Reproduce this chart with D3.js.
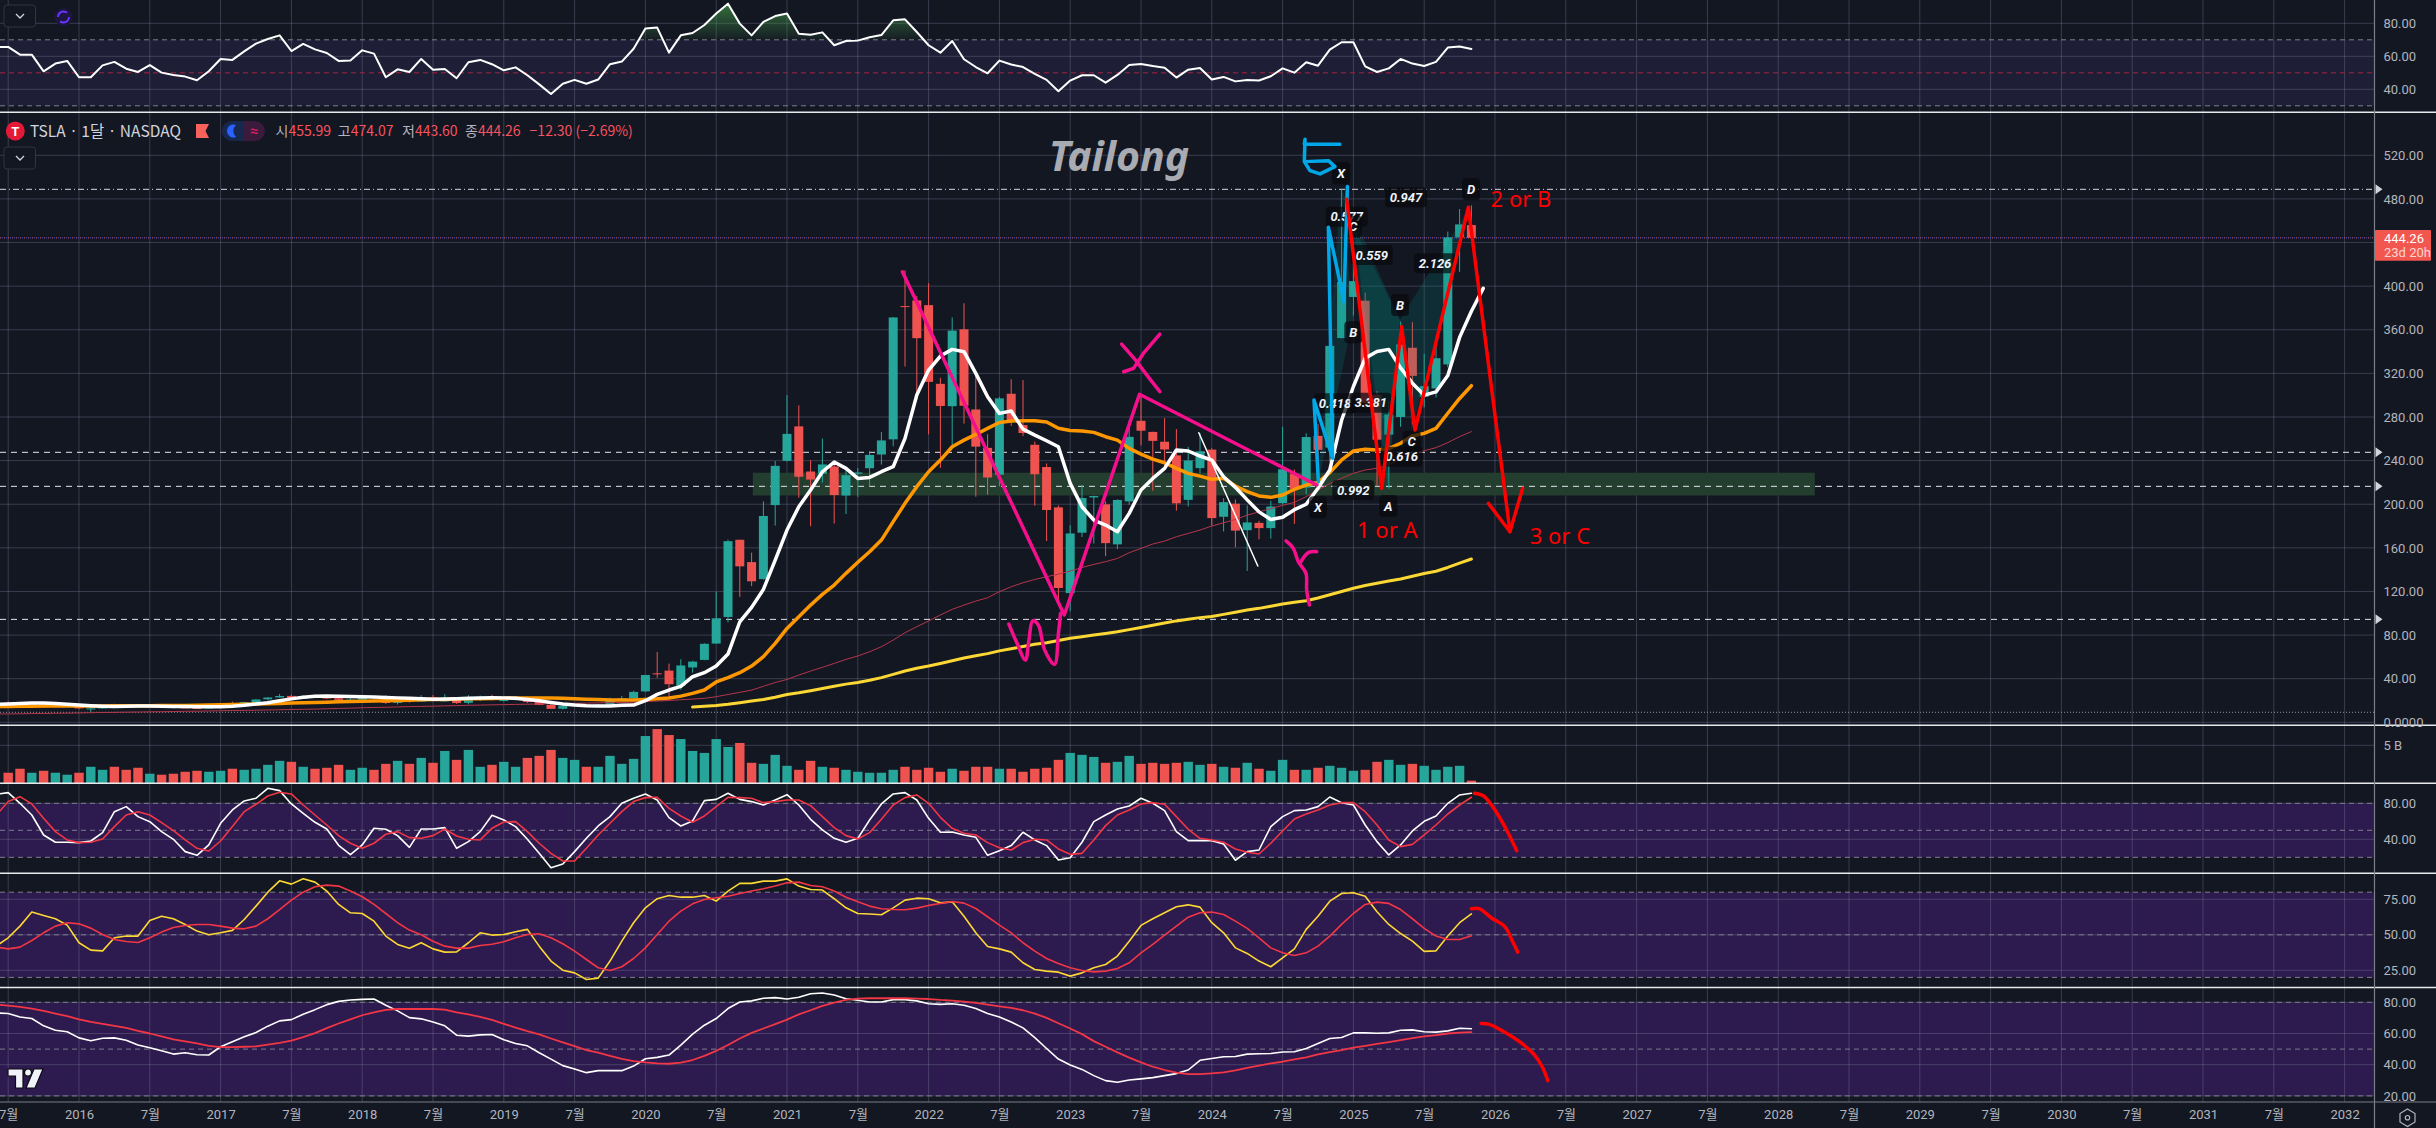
<!DOCTYPE html>
<html>
<head>
<meta charset="utf-8">
<script src="https://cdn.jsdelivr.net/npm/d3@7"></script>
<style>
  html, body { margin: 0; padding: 0; background: #131722; }
  svg { display: block; }
  text { font-family: Roboto, "Noto Sans", sans-serif; }
  .tick text { fill: #b2b5be; font-size: 13px; }
</style>
</head>
<body>
<div id="chart"></div>
<script>
//// month index: 0 = Jan 2016, first bar -7 = Jun 2015
const firstBar = -7;

//// monthly candles, Jun 2015 to Nov 2025
const opens = [16.6,18,17.9,16.1,16.5,14,15.4,
 15.4,12.6,12.7,16.6,16.1,14.9,14.1,15.1,14.2,13.6,13.1,12.7,
 14.3,17,16.7,18.6,21.1,22.8,24.2,21.6,23.6,22.7,22.1,20.6,
 20.8,23.8,22.9,17.8,20,19,23,20,20.2,17.9,22.5,23.4,
 20.4,20.5,21.3,18.7,15.9,12.4,15,16.2,15.1,16.1,21,22,
 28.3,44.9,47.4,33.6,50.3,57.2,72.2,96.6,167.4,146.9,131.3,199.2,
 239.8,271.4,230,228,234.6,208,227.9,233,245.6,259.5,381.7,386.9,
 382.6,310.4,289.9,360.4,286.9,251.7,227,301.3,272.6,254.5,234.1,197.1,
 118.5,173.9,206.2,199.9,163.2,202.6,276.5,266.3,257.3,244.8,204,233.1,
 250.1,188.5,200.5,176.2,182.9,178.1,201,227.7,215.3,262.7,252,352.4,
 390.1,386.7,300.3,263.8,280,343.5,298.5,306.2,328.2,444.7,455.99];
const highs = [17.9,19.1,18.5,18,16.9,15.8,16.3,
 15.4,13.8,15.8,17,16.1,15.8,15.5,15.4,14.7,14.2,13.9,14.5,
 17,19,18.9,21.1,22.9,25.97,25.3,24.7,25.5,24.3,22.3,23.4,
 23.9,24,24.9,20.6,20.9,24.9,24.9,25.8,21.4,24.9,24.5,25.3,
 23,23.5,23.5,19.7,17.2,15,17.2,16.3,16.6,22.7,24.2,29,
 43.6,64.6,53.8,57.8,56.4,72.5,119.7,167.5,167.5,155.6,202.6,239.6,
 300.1,290.6,240.4,260.3,236.4,233.3,233.3,248.7,266.3,371.7,414.5,390.9,
 402.7,315.9,371.3,384.3,318.5,264.2,298.4,314.7,313.8,257.5,237.4,198.9,
 180.7,217.6,207.8,202.7,204.5,277,299.3,266.5,279,268.9,252.7,265.1,
 251.3,205.6,204.5,198.9,184.8,203.2,271,231.9,265,273.5,358.6,488.5,
 439.7,394,303.9,294.9,367.7,367,338,352.9,450,470.75,474.07];
const lows = [16.4,17,13,15.5,13.7,13.8,14.7,
 12,9.4,12.3,15,13.9,13.8,14,14,12.9,13.1,12.4,12.7,
 14.1,16.2,16.3,18.4,20,22.6,20.2,21.5,22.8,21.1,19.5,20.5,
 20.6,19.5,16.8,16.3,18.1,18.9,19.3,19.2,16.9,16.4,19.6,20,
 19.1,19.9,17.6,15.7,12.2,11.8,14.8,14.1,14.5,15.3,20.7,21.9,
 28.1,40.8,23.4,29.8,45.5,56.9,72,91.6,115,125,130.8,180.4,
 239.1,206,179.8,219.8,182.3,191,206.8,216.3,236.4,253.2,326.3,295.4,
 264,233.3,252,273.9,206.9,208.7,216.2,271.8,262.5,198.6,166.2,108.2,
 101.8,169.9,163.9,152.4,158.8,199.4,254.1,212.4,234.6,194.1,197.9,228.2,
 180.1,175,160.5,138.8,167.8,168.5,200,182,209.1,212.1,238.9,352,
 373,288.7,217,214.3,271,273.2,288.8,297.8,325.6,413.1,443.6];
const closes = [17.88,17.94,16.62,16.56,13.77,15.35,16,
 12.73,12.73,15.32,16.05,14.9,14.15,15.04,14.12,13.6,13.1,12.62,14.25,
 16.9,16.69,18.55,20.94,22.74,24.1,21.56,23.56,22.74,22.1,20.59,20.76,
 23.62,22.87,17.74,19.59,18.98,22.86,19.88,20.11,17.65,22.49,23.37,22.19,
 20.47,21.33,18.66,15.91,12.34,14.9,16.11,15.04,16.06,20.99,21.99,27.89,
 43.37,44.53,34.93,52.13,55.67,71.99,95.38,166.1,143,129.3,189.2,235.2,
 264.5,225.2,222.6,236.5,208.4,226.6,229.1,245.2,258.5,371.3,381.6,352.3,
 312.2,290.1,359.2,290.3,252.8,224.5,297.1,275.6,265.3,227.5,194.7,123.2,
 173.2,205.7,207.5,164.3,203.9,261.8,267.4,258.1,250.2,200.8,240.1,248.5,
 187.3,201.9,175.8,183.3,178.1,197.9,232.1,214.1,261.6,249.9,345.2,403.8,
 404.6,293,259.2,282.2,346.5,317.7,308.3,333.9,444.7,456.6,444.26];

//// volume in billions, from Jul 2015
const volStart = -6;
const volumes = [1.36,1.89,1.36,1.62,1.36,1.1,1.36,2.15,1.75,2.15,1.75,2.02,1.23,1.1,1.23,1.49,1.62,1.49,1.62,1.89,1.75,1.89,2.41,2.94,2.81,2.15,1.89,2.02,2.41,1.75,2.02,1.75,2.54,2.94,2.54,3.33,2.68,4.25,3.07,4.39,2.15,2.41,2.81,2.15,3.33,3.6,4.39,3.33,3.07,2.15,2.15,3.6,2.54,3.2,6.23,7.15,6.36,5.83,4.25,3.99,5.83,4.78,5.31,2.68,2.54,3.73,2.28,1.75,
 2.94,2.15,2.02,1.75,1.49,1.36,1.36,1.75,2.15,1.75,2.02,1.49,1.89,1.62,2.15,2.15,1.89,1.89,1.49,1.89,2.02,3.07,3.99,3.73,3.46,2.68,2.81,3.6,2.54,2.68,2.54,2.68,2.81,2.41,2.54,2.15,2.02,2.68,1.89,1.62,3.07,1.75,1.75,2.02,2.28,2.02,1.62,1.75,2.81,3.07,2.41,2.54,2.28,1.75,2.15,2.28,0.31];

//// price overlays
const whiteStart = -7;
const whiteLine = [16.4,16.8,17.2,17.6,17.7,17.2,16.5,15.8,15.2,14.8,14.6,14.8,15,15,14.8,14.6,14.4,14.3,14.2,14.3,14.8,15.6,16.8,18,19.8,21.5,23,23.8,24.1,23.9,23.6,23.5,23.2,22.8,22.4,22,21.6,21.2,21.4,21.7,22,22.3,22.6,22.4,22,21,19.8,18.2,16.8,15.8,15.2,14.9,14.9,15.6,15.8,19.8,25.6,29.6,33,
 41.8,45.5,51.6,62.6,92.2,105.4,121.9,148.8,176.3,197.7,213,229.8,238.7,232.9,223.7,224.6,229.8,234.4,260.4,300.1,323,335.9,342,339.9,320,298.6,283.3,285.5,268.9,263.4,258.2,252.7,219.1,197.7,185.5,180.9,174.8,191.6,213,223.7,232.9,249.7,248.8,244.2,240.5,225.2,215.5,204,193,186,188,195,200,214.6,231.4,277,308,334,340,342,325,311,300,303,318,353,377,398];
const orangeStart = -7;
const orangeLine = [14.5,14.6,14.7,14.8,14.9,15,15,15,15,15,15.1,15.1,15.2,15.2,15.3,15.4,15.5,15.7,15.9,16.1,16.3,16.5,16.8,17,17.3,17.6,17.9,18.2,18.5,18.8,19,19.2,19.5,19.8,20,20.3,20.6,20.8,21,21.3,21.5,21.7,21.9,22.1,22.3,22.4,22.4,22.3,22.1,21.6,21.2,20.8,20.5,20.4,20.5,21,21.5,22.3,24,26.5,29.6,37,
 40.9,45.5,51.6,60.2,72.4,86.1,96.8,107.5,117.3,125.9,136.6,146.7,156.4,167.1,184,200.8,216.1,229.8,240.5,252.7,258.8,264,269.6,275,276.3,276.6,276.6,275.4,269.6,267.7,267.1,265.9,261.9,258.8,251.2,246,241.4,238,232.9,228.3,225.8,222.8,223.8,216.7,211.5,207.6,206.3,208.5,213.7,217.6,220,229,240.6,248.8,250.4,249.7,251,255.9,262.6,265,269.6,283.4,297,308.7];
const thinRedStart = -7;
const thinRedLine = [7.6,7.7,7.8,8,8.1,8.3,8.4,8.6,8.8,9,9.1,9.3,9.4,9.6,9.7,9.9,10.1,10.2,10.4,10.6,10.8,10.9,11.1,11.3,11.5,11.7,11.9,12.1,12.4,12.7,13,13.3,13.6,13.8,14.1,14.4,14.6,14.8,15.1,15.3,15.6,15.8,16,16.2,16.4,16.6,16.8,17,17.2,17.4,17.6,17.8,18,18.2,18.4,19,19.5,20,20.7,21.3,22,23.5,25.5,27.5,29.5,33,36.5,
 39.3,43.3,47,50.4,54,57.7,60.8,64.7,69.3,75.4,82.2,87.7,92.9,98.4,103.6,107.5,111.2,114.2,119.8,124.3,128,131,133.5,135.9,138.7,142,144.8,147.3,150.3,155.5,159.5,163.5,166.2,170.2,173.2,176.3,180,183,186,190,193,196,199,201.7,207,213,219,223.8,228.3,231.4,233,236,242,246.7,249,251.9,256.5,262,266.6];
const yellowStart = 52;
const yellowLine = [14,14.8,15.5,16.5,18,19.5,21,23,25.5,27.1,29,31,33,35,36.5,38.5,41,44,47,49.5,51.6,54,56.5,59,61,63,65.5,67.5,69.5,71.5,73,75,77,78.5,80,81.5,83,85,87,89,91,93,94.5,96,97,99,101,103,104.5,106.5,108.5,110,111.5,114,117,120,123,125.5,127.5,129.5,131.5,134,136.5,138.5,142,146,149.8];

//// level lines and zone on the price pane
const dashedLevels = [247.6, 216.4, 94.4];
const topLevel = 488.8;
const lastPrice = 444.26;
const floorLevel = 9.2;
const zoneMonths = [57.1, 147.1];
const zonePrices = [208, 228.9];

//// RSI
const rsiStart = -7;
const rsiLine = [65.7,65.7,61,61,50.9,55.6,57.2,47.3,47.3,54.5,56.6,52.5,50.5,54.7,50.1,48.7,47.7,45.5,50.9,58.4,57.8,63,67.7,70.5,72.7,63.2,67.5,64.2,62,57.2,57.4,63.6,61.6,47.3,52.1,50.5,58.4,51.9,52.3,46.7,56.4,57.8,55.2,51.5,53.3,48.5,43,37.2,43.4,45.7,43.4,45.9,55.2,56.8,64.6,76.8,77.4,62.2,72.7,74.1,79,85.9,91.9,79.8,72.7,80.8,84.4,
 85.9,73.7,73.1,74.5,66.7,69.3,69.5,71.5,72.9,81.8,82.4,74.7,66.7,62.2,69.3,58.2,53.5,49.7,57.4,55,53.5,49.3,45.7,38.8,45.3,48.5,48.5,44,48.7,54.7,55.3,54.1,53.1,47.1,51.9,52.9,45.9,47.5,44.8,45.7,45.3,47.9,52.7,50.1,56.4,54.3,64,68.5,68.5,53.9,50.5,52.7,58.4,55.6,54.1,56.6,65.3,65.9,64.4];

//// stochastic panes
const stochStart = -7;
const stochAK = [90,91.9,80,67,44.8,36.7,36.7,36.3,38.1,47.4,70.7,76.3,65.2,59.6,48.5,40,26.3,22.2,33.7,57.8,72.6,82.6,85.6,96.7,94.1,79.3,68.9,58.9,51.5,33.3,23,33.7,52.2,51.1,44.1,31.1,51.5,51.5,53,30,37.4,48.5,66.7,61.5,54.1,40,24.4,8.5,12.6,26.3,41.1,54.8,65.2,80,85.6,90.4,83.7,64.1,54.8,60.4,83,84.4,91.1,84.4,81.9,78.1,83.7,89.6,78.1,
 62.2,50.4,41.1,36.7,41.1,61.5,79.3,90.4,91.9,83.7,63.3,47.8,48.1,44.8,42.2,22.2,27.4,33,47.8,39.3,33,17,19.6,36.7,59.6,67,73.7,77,85.6,80,71.9,48.5,38.5,38.5,38.5,34.8,16.7,26.3,28.1,54.1,65.2,71.9,72.6,76.3,87,80.7,78.1,55.9,37.4,22.6,33.7,49.3,60,65.9,80,89.3,91.1];
const stochAD = [67,81.9,87.4,79.3,63.3,48.5,39.3,36.3,36.7,40.4,54.1,67,70.7,67,58.5,49.6,39.3,30,27,38.1,54.1,70.7,78.9,88.1,92.2,90.4,78.1,67,55.9,44.1,35.6,30,35.6,45.6,48.5,41.9,41.1,44.1,51.5,43.7,40,39.3,52.2,59.3,59.6,48.5,35.6,24.4,15.9,15.9,30,44.8,57.8,70.7,81.9,86.3,86.7,74.4,65.9,58.9,65.9,76.3,86.7,86.3,85.6,80.7,81.9,83.7,83.7,
 77.4,65.2,53,44.1,40.4,47.4,62.2,78.1,86.3,89.3,80,64.4,52.2,46.7,44.8,36.3,30.7,28.1,36.3,40,39.3,29.3,23.3,24.4,39.3,55.2,67,72.6,79.3,80.7,78.9,65.2,51.1,41.1,39.3,36.7,29.3,25.6,23.7,35.6,49.3,62.6,68.1,72.6,78.1,80.7,80.7,70.7,55.9,39.3,31.9,34.4,44.8,55.9,68.1,78.1,86.7];
const stochBK = [42,47.9,56.1,66,63.6,61.3,56.8,44.4,39.2,38.7,47.9,49.1,49.1,60.1,63.1,61.3,57.3,52.6,50,51.4,53.1,60.8,70.2,80,88,85.7,89.4,87.1,80.8,71.4,65.5,65,59.6,49.1,43.2,40.6,44.4,40.1,37.8,38,44.4,51.4,49.8,50.2,52.1,53.8,42,31.5,25.1,23.2,18.5,19.5,31.5,45.5,58.5,69,75.4,77.7,76.5,76.5,77.7,73.7,80.8,86.2,86.2,87.8,87.8,89.4,84.3,
 81.9,81.5,75.4,69,65,64.6,64.1,69,74.4,75.8,75.4,72.5,73.2,63.1,51.4,41.8,40.1,37.8,30.3,25.6,24.4,23.7,20.9,23.2,26.8,29.1,35,45.5,56.6,61.3,65.5,69.7,71.1,69.5,58.5,51.4,40.8,36.9,31.5,27.5,33.8,40.1,53.8,63.1,73.7,79.1,79.6,77.2,66.2,57.3,50.9,45.5,38.3,38.7,49.1,58.5,64.8];
const stochBD = [41.3,40.1,41.3,46,51.4,56.1,58.5,57.7,54.7,50.2,46.7,45.3,44.6,47.9,51.9,55.2,56.6,57.3,57.3,56.1,54.7,54.2,56.1,61.3,67.8,74.4,80,83.8,85,84.3,80.8,76.8,71.4,65,58.5,53.3,50,45.5,42,40.6,40.6,42.5,43.4,45.1,47.9,50.2,50.7,47.9,43.7,38.5,32.6,26.8,24.9,27.5,33.3,40.8,50.2,59.6,66.7,71.8,74.9,76.1,77.2,79.1,80.8,82.4,84.3,86.6,87.1,
 84.7,83.8,80.8,76.5,73.2,70.2,68.3,67.8,67.6,68.8,70.7,72.1,73.5,72.3,68.5,62.7,56.8,51.4,44.4,38.5,33.3,29.8,26.8,24.9,23.9,24.4,26.3,30.3,37.3,43.2,49.8,56.1,62.4,65.5,66,64.3,59.6,54.5,47.9,40.8,37.3,35.4,37.3,42,49.1,57.3,65,71.4,73,72.1,67.8,61.3,54.5,49.1,46.7,46.7,49.3];
const stochCK = [73.2,72.8,70.6,69.6,64.9,62.1,61.1,57.2,55.3,57,57.2,55.7,52.6,50.9,48.9,46.8,47.7,46.4,46.2,51.5,54.7,57.9,60.6,64.7,68.1,68.9,72.3,75.3,78.5,80.6,81.5,81.9,82.1,78.1,74.5,70.2,69.4,67.4,64.9,58.9,58.3,59.1,59.4,56,53.6,52.1,47.7,43.6,39.4,37.2,34.9,36.2,36.2,36.2,39.1,43.8,44.7,46.2,52.6,59.6,65.3,69.6,76,80.2,80.9,82.6,83,82.1,83.2,
 85.5,86,84.7,82.3,81.3,80.2,80.2,81.7,81.7,80.9,79.1,78.7,79.1,78.1,76,72.8,70.6,67.4,63.6,57.4,50.4,43.6,39.8,37,33,29.8,28.7,30.2,30.9,31.7,33,34.3,36.6,42.8,44,45.1,45.3,46.8,47,47.2,48.1,48.3,50.4,53.6,56.8,57.4,60.4,60.4,60.2,60.4,62.1,62.3,61.1,60.9,61.7,63.4,63];
const stochCD = [78.5,77.9,77,76,74.5,72.8,71.1,69.1,67.4,66.2,64.9,63.6,61.7,60,58.1,56.2,54.9,53.6,52.1,51.3,51.3,51.5,51.7,52.8,54,55.5,57.7,60.2,63.4,66.4,69.1,71.7,73.6,75.1,75.7,75.7,75.7,75.7,75.3,73.6,72.3,70.6,68.7,66.2,63.8,61.5,59.4,56.8,54.3,51.9,49.4,47.7,45.7,43.8,42.3,41.5,40.9,40.6,41.3,43,45.7,48.9,52.6,56.8,60.4,63.2,66,68.9,72.3,
 74.9,77.7,79.8,81.5,82.3,82.6,82.6,82.6,82.6,82.3,82.1,81.5,81.1,80.4,79.6,78.5,77.4,76.4,74.9,72.8,70,66.6,63.2,59.6,55.1,51.5,47.9,44.5,41.5,38.7,36.6,34.9,34,34,34.5,35.1,36.4,37.9,39.4,40.9,41.9,43.4,44.7,46.6,48.1,49.4,50.9,52.1,53.4,54.5,55.7,57,58.1,58.9,60,60.6,60.9];

//// hand drawn strokes as [month, value]
const pinkZig = [[69.78,413.2],[83.5,98.4],[89.87,300.8],[104.9,217.6]];
const pinkW = [[78.8,90.1],[79.5,72.4],[80.2,57.1],[80.5,75.4],[80.83,93.2],[81.3,89.2],[81.84,66.2],[82.67,53.1],[83,81.5],[83.18,99.9]];
const pinkX1 = [[88.36,346.9],[89.54,332.2],[90.71,315.4],[91.6,303.2]];
const pinkX2 = [[88.53,321.5],[89.37,324.6],[90.2,338.3],[91.6,356.1]];
const pinkY1 = [[102.29,166.3],[102.9,159.6],[103.33,147.3],[103.98,136.6],[104.04,121.3],[104.27,107.6]];
const pinkY2 = [[103.47,145.8],[104.18,155.6],[104.89,156.5]];
const blueZig = [[105.03,220.7],[104.66,295.6],[106.24,242.1],[105.88,454],[107.2,385.8],[107.49,491.3]];
const blueFive = [[106.86,530.1],[103.84,530.1],[103.9,534.7],[103.84,514.2],[105.88,515.1],[106.44,509.6],[105.17,502.9],[104.32,505.9],[103.84,514.2]];
const redZig = [[107.43,479.6],[110.4,214.6],[112.09,362.9],[113.22,268.1],[117.74,472.3],[121.27,174.8]];
const redHead = [[119.44,200.8],[121.27,174.8],[122.34,214.6]];
const whitePen = [[94.9,265.6],[99.9,143.3]];
const penStochA = [[118.26,91.1],[119.03,88.1],[119.8,76.3],[120.68,57.8],[121.2,44.8],[121.84,27.4]];
const penStochB = [[118,68.3],[118.7,68.3],[119.68,62],[120.85,55.6],[121.41,46.7],[121.93,37.8]];
const penStochC = [[118.82,66.4],[119.46,66],[120.76,61.1],[122.28,53.6],[123.36,46.2],[124,38.7],[124.48,29.8]];

//// harmonic pattern
const patternFills = [
  [[105,218],[106.95,490],[108,372]],
  [[106.95,490],[110.96,214],[111.95,369]],
  [[108,455],[111.95,369],[110.96,214]],
  [[111.95,369],[112.94,268],[117.94,474.4]]
];
const patternText = ["X","0.947","D","0.577","C","0.559","2.126","B","B","0.418","3.381","C","0.616","0.992","X","A"];
const patternMonth = [106.95,112.46,117.97,107.43,107.97,109.55,114.92,111.95,107.99,106.44,109.47,112.94,112.09,107.99,105,110.96];
const patternPrice = [503.5,481.5,488.8,463.7,454.5,428.6,421,382.7,357.7,292.6,293.1,257.3,243.6,213,197.2,198.4];

const handText = ["2 or B","1 or A","3 or C"];
const handMonth = [122.2,110.87,125.5];
const handPrice = [479.9,176,171];

//// ticks
const timeTicks = d3.range(-6, 193, 6);
const priceTicks = d3.range(0, 521, 40);
const priceLabels = priceTicks.filter(d => d != 440);

//// layout
const W = 2436, H = 1128, plotR = 2374.5;
const sepYs = [112.3, 725.2, 783.2, 873.3, 987.5];
const axisY = 1102;

const x = d3.scaleLinear().domain([0, 192]).range([79, 2344.6]);
const yRsi = d3.scaleLinear().domain([80, 40]).range([23.3, 89.3]);
const yPrice = d3.scaleLinear().domain([0, 520]).range([722.3, 155.3]);
const yVol = d3.scaleLinear().domain([0, 5]).range([783, 745.3]);
const yA = d3.scaleLinear().domain([80, 40]).range([803.3, 839.3]);
const yB = d3.scaleLinear().domain([75, 25]).range([899.3, 970.3]);
const yC = d3.scaleLinear().domain([80, 40]).range([1002.3, 1064.7]);

const teal = "#26a69a", coral = "#ef5350";
const gridCol = "rgba(125,128,155,0.36)";

const svg = d3.select("#chart").append("svg").attr("width", W).attr("height", H)
  .style("background", "#131722");

function seriesLine(values, start, y) {
  return d3.line().x((d, i) => x(i + start)).y(d => y(d))(values);
}
function penLine(points, y, curve) {
  return d3.line().x(d => x(d[0])).y(d => y(d[1])).curve(curve || d3.curveLinear)(points);
}
function stroke(path, col, w) {
  return svg.append("path").attr("d", path).attr("fill", "none").attr("stroke", col)
    .attr("stroke-width", w).attr("stroke-linejoin", "round").attr("stroke-linecap", "round");
}
function hLine(y, col, w, dash) {
  return svg.append("line").attr("x1", 0).attr("x2", plotR).attr("y1", y).attr("y2", y)
    .attr("stroke", col).attr("stroke-width", w).attr("stroke-dasharray", dash || null);
}
function band(y0, y1, col) {
  svg.append("rect").attr("x", 0).attr("width", plotR).attr("y", y0).attr("height", y1 - y0).attr("fill", col);
}

//// bands first, grid goes over them
band(yRsi(70), yRsi(30), "#1e1f36");
band(yA(80), yA(20), "#2d1a4e");
band(yB(80), yB(20), "#2d1a4e");
band(yC(80), yC(20), "#2d1a4e");

//// grid
svg.append("g").selectAll("line").data(timeTicks).join("line")
  .attr("x1", d => x(d)).attr("x2", d => x(d)).attr("y1", 0).attr("y2", axisY)
  .attr("stroke", gridCol);
[[yRsi,[80,60,40]],[yPrice,priceTicks],[yVol,[5]],[yA,[80,40]],[yB,[75,50,25]],[yC,[80,60,40,20]]].forEach(p => {
  p[1].forEach(v => hLine(p[0](v), gridCol, 1));
});

//// band edges
const dashCol = "#7d7f8c";
[70, 30].forEach(v => hLine(yRsi(v), dashCol, 1, "5 4"));
hLine(yRsi(50), "#a3233f", 1, "5 4");
[yA, yB, yC].forEach(y => [80, 50, 20].forEach(v => hLine(y(v), dashCol, 1, "5 4")));

//// RSI with the overbought fill
const defs = svg.append("defs");
const grad = defs.append("linearGradient").attr("id", "obFill").attr("gradientUnits", "userSpaceOnUse")
  .attr("x1", 0).attr("x2", 0).attr("y1", 3).attr("y2", yRsi(70));
grad.append("stop").attr("offset", 0).attr("stop-color", "#4caf50").attr("stop-opacity", 0.6);
grad.append("stop").attr("offset", 1).attr("stop-color", "#4caf50").attr("stop-opacity", 0.04);
defs.append("clipPath").attr("id", "obClip").append("rect")
  .attr("x", 0).attr("y", 0).attr("width", plotR).attr("height", yRsi(70));
svg.append("path")
  .attr("d", d3.area().x((d, i) => x(i + rsiStart)).y0(yRsi(70)).y1(d => yRsi(d))(rsiLine))
  .attr("fill", "url(#obFill)").attr("clip-path", "url(#obClip)");
stroke(seriesLine(rsiLine, rsiStart, yRsi), "#ffffff", 2);

//// green zone
svg.append("rect")
  .attr("x", x(zoneMonths[0])).attr("width", x(zoneMonths[1]) - x(zoneMonths[0]))
  .attr("y", yPrice(zonePrices[1])).attr("height", yPrice(zonePrices[0]) - yPrice(zonePrices[1]))
  .attr("fill", "#233d2f");

//// levels
dashedLevels.forEach(v => hLine(yPrice(v), "#e4e6ea", 1, "6 5"));
hLine(yPrice(topLevel), "#d6d8dd", 1, "6 3 1 3");
hLine(yPrice(lastPrice), coral, 1, "1 3");
hLine(yPrice(lastPrice), "#2962ff", 1, "1 3").attr("stroke-dashoffset", 2);
hLine(yPrice(floorLevel), "#9598a1", 1, "1 2");

//// candles
const bars = opens.map((o, i) => ({ m: i + firstBar, o: o, h: highs[i], l: lows[i], c: closes[i] }));
svg.append("g").selectAll("line").data(bars).join("line")
  .attr("x1", d => x(d.m)).attr("x2", d => x(d.m))
  .attr("y1", d => yPrice(d.h)).attr("y2", d => yPrice(d.l))
  .attr("stroke", d => d.c >= d.o ? teal : coral);
svg.append("g").selectAll("rect").data(bars).join("rect")
  .attr("x", d => x(d.m) - 4.5).attr("width", 9)
  .attr("y", d => yPrice(Math.max(d.o, d.c)))
  .attr("height", d => Math.max(1, Math.abs(yPrice(d.o) - yPrice(d.c))))
  .attr("fill", d => d.c >= d.o ? teal : coral);

//// harmonic fill
svg.append("g").selectAll("path").data(patternFills).join("path")
  .attr("d", d => penLine(d, yPrice) + "Z")
  .attr("fill", "rgba(0,137,123,0.2)");

//// overlays
stroke(seriesLine(thinRedLine, thinRedStart, yPrice), "#b5354a", 1);
stroke(seriesLine(yellowLine, yellowStart, yPrice), "#fdd835", 3);
stroke(seriesLine(orangeLine, orangeStart, yPrice), "#ff9800", 3.5);
stroke(seriesLine(whiteLine, whiteStart, yPrice), "#ffffff", 3.5);

//// volume
svg.append("g").selectAll("rect").data(volumes).join("rect")
  .attr("x", (d, i) => x(i + volStart) - 4.7).attr("width", 9.4)
  .attr("y", d => yVol(d)).attr("height", d => yVol(0) - yVol(d))
  .attr("fill", (d, i) => {
    const b = bars[i + volStart - firstBar];
    return b.c >= b.o ? teal : coral;
  });

//// stochastic lines
const redLn = "#f23645", yelLn = "#fdd835";
stroke(seriesLine(stochAK, stochStart, yA), "#ffffff", 1.6);
stroke(seriesLine(stochAD, stochStart, yA), redLn, 1.6);
stroke(seriesLine(stochBK, stochStart, yB), yelLn, 1.6);
stroke(seriesLine(stochBD, stochStart, yB), redLn, 1.6);
stroke(seriesLine(stochCK, stochStart, yC), "#ffffff", 1.6);
stroke(seriesLine(stochCD, stochStart, yC), redLn, 1.8);

//// labels of the harmonic pattern
const pat = svg.append("g").selectAll("g")
  .data(patternText.map((t, i) => ({ t: t, m: patternMonth[i], p: patternPrice[i] })))
  .join("g").attr("transform", d => `translate(${x(d.m)},${yPrice(d.p)})`);
pat.append("rect")
  .attr("x", d => d.t.length > 1 ? -21 : -9).attr("width", d => d.t.length > 1 ? 42 : 18)
  .attr("y", d => d.t.length > 1 ? -10 : -11).attr("height", d => d.t.length > 1 ? 20 : 22)
  .attr("rx", 4).attr("fill", "rgba(8,10,14,0.72)");
pat.append("text").text(d => d.t).attr("text-anchor", "middle").attr("dy", "0.36em")
  .attr("fill", "#f0f3fa").attr("font-size", 13).attr("font-weight", 700).attr("font-style", "italic");

//// hand strokes
const pink = "#f50f8c", blue = "#00a8e8", red = "#ff0000";
stroke(penLine(whitePen, yPrice), "#ffffff", 1.5);
stroke(penLine(pinkZig, yPrice), pink, 3.5);
stroke(penLine(pinkW, yPrice, d3.curveCatmullRom), pink, 3.5);
stroke(penLine(pinkX1, yPrice), pink, 3.5);
stroke(penLine(pinkX2, yPrice), pink, 3.5);
stroke(penLine(pinkY1, yPrice, d3.curveCatmullRom), pink, 3.5);
stroke(penLine(pinkY2, yPrice, d3.curveCatmullRom), pink, 3.5);
stroke(penLine(blueZig, yPrice), blue, 3.5);
stroke(penLine(blueFive, yPrice), blue, 3.5);
stroke(penLine(redZig, yPrice), red, 3.5);
stroke(penLine(redHead, yPrice), red, 3.5);
stroke(penLine(penStochA, yA, d3.curveCatmullRom), red, 3.5);
stroke(penLine(penStochB, yB, d3.curveCatmullRom), red, 3.5);
stroke(penLine(penStochC, yC, d3.curveCatmullRom), red, 3.5);

handText.forEach((t, i) => {
  svg.append("text").text(t).attr("x", x(handMonth[i])).attr("y", yPrice(handPrice[i]))
    .attr("text-anchor", "middle").attr("dy", "0.36em")
    .attr("fill", red).attr("font-size", 22).attr("style", 'font-family:"Noto Sans"');
});

svg.append("text").text("Tailong").attr("x", 1119).attr("y", 170.5).attr("text-anchor", "middle")
  .attr("fill", "#a9abb2").attr("font-size", 41).attr("font-weight", 700).attr("font-style", "italic")
  .attr("style", 'font-family:"Noto Sans"');

//// separators and frame
sepYs.forEach(y => svg.append("line").attr("x1", 0).attr("x2", W).attr("y1", y).attr("y2", y)
  .attr("stroke", "#e8e9ec").attr("stroke-width", 1.6));
svg.append("line").attr("x1", 0).attr("x2", W).attr("y1", axisY).attr("y2", axisY).attr("stroke", "#7d7f88").attr("stroke-width", 1.2);
svg.append("line").attr("x1", plotR).attr("x2", plotR).attr("y1", 0).attr("y2", H).attr("stroke", "#7d7f88").attr("stroke-width", 1.2);

//// axes
function rightAxis(y, ticks, fmt) {
  const g = svg.append("g").attr("transform", `translate(${plotR},0)`)
    .call(d3.axisRight(y).tickValues(ticks).tickSize(0).tickPadding(9).tickFormat(fmt));
  g.select(".domain").remove();
  return g;
}
const f2 = d3.format(".2f");
rightAxis(yRsi, [80, 60, 40], f2);
rightAxis(yPrice, priceLabels, d => d == 0 ? "0.0000" : f2(d));
rightAxis(yVol, [5], d => d + " B");
rightAxis(yA, [80, 40], f2);
rightAxis(yB, [75, 50, 25], f2);
rightAxis(yC, [80, 60, 40, 20], f2);

const timeAxis = svg.append("g").attr("transform", `translate(0,${axisY + 8})`)
  .call(d3.axisBottom(x).tickValues(timeTicks).tickSize(0).tickPadding(0)
    .tickFormat(d => d % 12 == 0 ? String(2016 + d / 12) : "7월"));
timeAxis.select(".domain").remove();
timeAxis.selectAll("text").attr("style", 'font-family:Roboto,"Noto Sans CJK KR"');

//// level markers on the price axis
[topLevel].concat(dashedLevels).forEach(v => {
  const yy = yPrice(v);
  svg.append("path").attr("d", `M${plotR + 1},${yy - 5}L${plotR + 8},${yy}L${plotR + 1},${yy + 5}Z`).attr("fill", "#d1d4dc");
});

//// last price tag
svg.append("rect").attr("x", plotR + 0.5).attr("y", 230).attr("width", 56).attr("height", 30.7).attr("rx", 1).attr("fill", "#f2574f");
svg.append("text").text("444.26").attr("x", plotR + 9.5).attr("y", 243).attr("fill", "#fff").attr("font-size", 13);
svg.append("text").text("23d 20h").attr("x", plotR + 9.5).attr("y", 257).attr("fill", "#fcd5d3").attr("font-size", 13);

//// header
const hdrFont = 'font-family:"Noto Sans CJK KR",Roboto';
svg.append("circle").attr("cx", 15.3).attr("cy", 131).attr("r", 9.5).attr("fill", "#e31937");
svg.append("text").text("T").attr("x", 15.3).attr("y", 136).attr("text-anchor", "middle").attr("fill", "#fff").attr("font-size", 13).attr("font-weight", 700);
svg.append("text").text("TSLA · 1달 · NASDAQ").attr("x", 30).attr("y", 136.5).attr("fill", "#d1d4dc").attr("font-size", 15.5).attr("style", hdrFont);
svg.append("path").attr("d", "M196,124H209L205.5,131L209,138H196Z").attr("fill", "#f7625c");
svg.append("rect").attr("x", 222).attr("y", 121).attr("width", 43).attr("height", 20).attr("rx", 10).attr("fill", "#3a1b3c");
svg.append("path").attr("d", "M243.5,121H232A10,10 0 0 0 232,141H243.5Z").attr("fill", "#16284e");
svg.append("path").attr("d", "M236,125A6.5,6.5 0 1 0 236,137A8,8 0 0 1 236,125Z").attr("fill", "#2962ff");
svg.append("text").text("≈").attr("x", 254).attr("y", 136).attr("text-anchor", "middle").attr("fill", "#e91e63").attr("font-size", 15);

const ohlcKeys = ["시", "고", "저", "종"];
const ohlcVals = ["455.99", "474.07", "443.60", "444.26"];
const ohlcX = [275.5, 337.8, 402, 465];
ohlcKeys.forEach((k, i) => {
  const t = svg.append("text").attr("x", ohlcX[i]).attr("y", 136).attr("font-size", 14).attr("style", hdrFont);
  t.append("tspan").text(k).attr("fill", "#b2b5be");
  t.append("tspan").text(ohlcVals[i]).attr("fill", "#f7525f");
});
svg.append("text").text("−12.30 (−2.69%)").attr("x", 529.6).attr("y", 136).attr("fill", "#f7525f").attr("font-size", 14).attr("style", hdrFont);

//// collapse buttons and study icon
[[4, 5], [4, 147]].forEach(p => {
  svg.append("rect").attr("x", p[0]).attr("y", p[1]).attr("width", 31.5).attr("height", 22).attr("rx", 3)
    .attr("fill", "#131722").attr("stroke", "#32353f");
  svg.append("path").attr("d", `M${p[0] + 12},${p[1] + 9}l4,4l4,-4`).attr("fill", "none").attr("stroke", "#d1d4dc").attr("stroke-width", 1.3);
});
svg.append("circle").attr("cx", 63.5).attr("cy", 17).attr("r", 9).attr("fill", "#1d1640");
svg.append("circle").attr("cx", 63.5).attr("cy", 17).attr("r", 5.5).attr("fill", "none").attr("stroke", "#6a35ff").attr("stroke-width", 2).attr("stroke-dasharray", "12 5");

//// watermark
const tv = svg.append("g").attr("transform", "translate(8,1068)").attr("fill", "#f0f3fa").attr("stroke", "#0a0c10").attr("stroke-width", 1.2);
tv.append("path").attr("d", "M0,1H15V20H7.5V8H0Z");
tv.append("circle").attr("cx", 20).attr("cy", 4.5).attr("r", 3.5);
tv.append("path").attr("d", "M26,1H35L27,20H18Z");

//// settings hexagon
svg.append("path").attr("d", "M2407.5,1109L2415,1113.5V1122L2407.5,1126.5L2400,1122V1113.5Z").attr("fill", "none").attr("stroke", "#b2b5be").attr("stroke-width", 1.2);
svg.append("circle").attr("cx", 2407.5).attr("cy", 1117.7).attr("r", 2.2).attr("fill", "none").attr("stroke", "#b2b5be").attr("stroke-width", 1.2);
</script>
</body>
</html>
